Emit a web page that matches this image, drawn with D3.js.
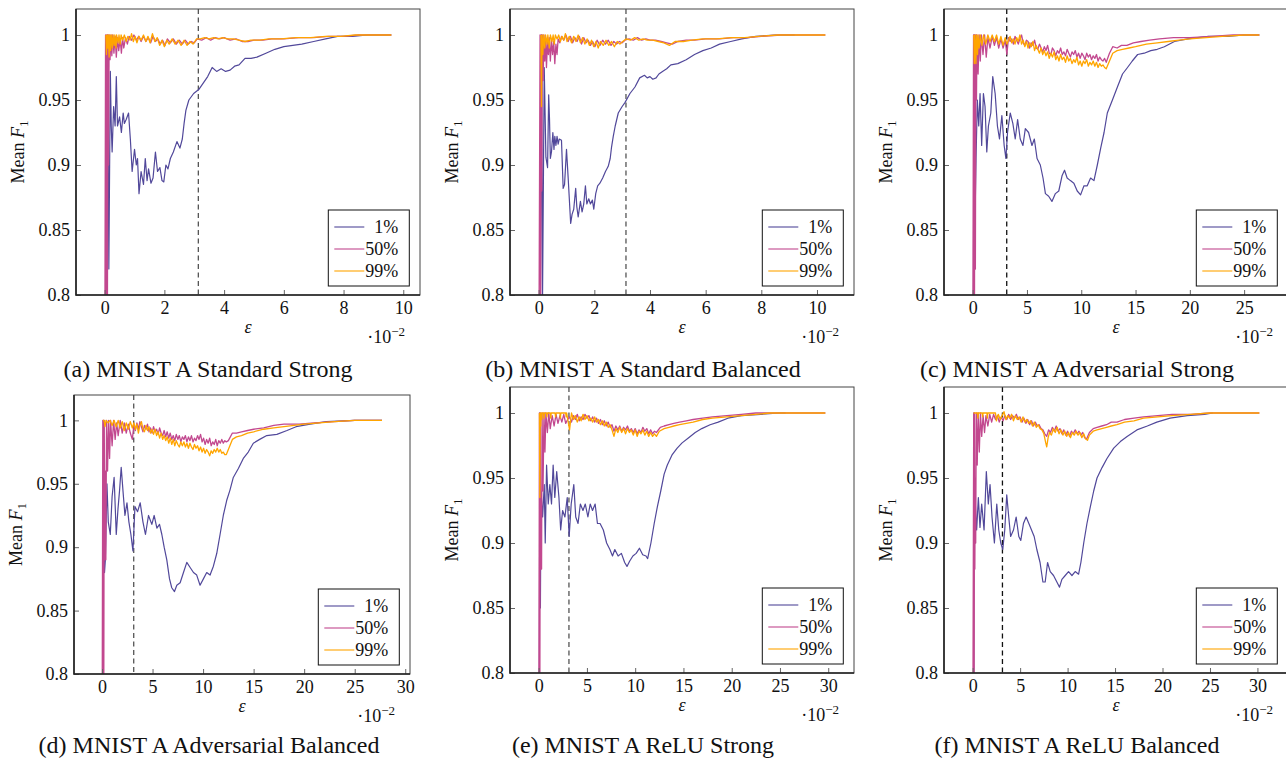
<!DOCTYPE html>
<html>
<head>
<meta charset="utf-8">
<script src="https://cdn.jsdelivr.net/npm/d3@7"></script>
<style>
  body { margin: 0; background: #fff; }
  svg text { font-family: "Liberation Serif", Tinos, "Times New Roman", "DejaVu Serif", serif; fill: #111; }
</style>
</head>
<body>
<script>
// x values are in units of 1e-2 (axis shows the ·10^-2 multiplier)

// (a) Standard Strong
const stdStrong1 = [[0.05,0.7],[0.1,1.0],[0.14,0.82],[0.19,0.972],[0.22,0.93],[0.25,0.91],[0.3,0.945],[0.35,0.93],[0.39,0.968],[0.43,0.93],[0.5,0.937],[0.56,0.925],[0.62,0.94],[0.66,0.932],[0.72,0.935],[0.8,0.94],[0.86,0.92],[0.92,0.895],[1.0,0.912],[1.06,0.9],[1.1,0.905],[1.15,0.878],[1.22,0.895],[1.3,0.885],[1.36,0.905],[1.42,0.888],[1.47,0.897],[1.55,0.886],[1.62,0.89],[1.7,0.91],[1.77,0.895],[1.85,0.898],[1.92,0.888],[1.98,0.887],[2.05,0.9],[2.12,0.897],[2.2,0.905],[2.3,0.91],[2.42,0.918],[2.52,0.913],[2.6,0.92],[2.66,0.932],[2.72,0.942],[2.82,0.95],[2.98,0.955],[3.15,0.958],[3.3,0.963],[3.45,0.968],[3.6,0.975],[3.75,0.972],[3.9,0.974],[4.05,0.972],[4.2,0.973],[4.35,0.976],[4.5,0.977],[4.7,0.982],[4.9,0.982],[5.1,0.983],[5.4,0.986],[5.7,0.989],[6.0,0.991],[6.3,0.992],[6.6,0.993],[7.0,0.995],[7.4,0.997],[7.8,0.999],[8.3,0.999],[8.8,1.0],[9.6,1.0]];
const stdStrong50 = [[0,0.7],[0.03,1],[0.05,0.72],[0.07,1],[0.09,0.76],[0.11,1],[0.13,0.9],[0.15,1],[0.18,0.981],[0.21,1],[0.24,0.984],[0.27,1],[0.31,0.986],[0.35,0.999],[0.39,0.983],[0.43,0.998],[0.47,0.988],[0.52,0.997],[0.56,0.986],[0.6,0.998],[0.64,0.99],[0.7,0.998],[0.76,0.993],[0.82,0.999],[0.9,0.996],[0.98,1.0],[1.06,0.996],[1.14,0.999],[1.22,0.995],[1.3,0.999],[1.38,0.995],[1.46,0.998],[1.54,0.994],[1.62,0.999],[1.7,0.995],[1.78,0.997],[1.86,0.993],[1.94,0.996],[2.02,0.992],[2.1,0.997],[2.2,0.994],[2.3,0.997],[2.4,0.993],[2.5,0.996],[2.6,0.993],[2.7,0.996],[2.8,0.993],[2.9,0.995],[3.0,0.994],[3.1,0.997],[3.25,0.996],[3.4,0.998],[3.55,0.996],[3.7,0.998],[3.85,0.997],[4.0,0.998],[4.2,0.996],[4.4,0.997],[4.6,0.995],[4.8,0.995],[5.0,0.996],[5.3,0.996],[5.6,0.997],[6.0,0.997],[6.5,0.998],[7.0,0.998],[7.5,0.999],[8.0,0.999],[8.5,1.0],[9.6,1.0]];
const stdStrong99 = [[0.04,1],[0.06,0.985],[0.08,1],[0.1,0.99],[0.12,1],[0.15,0.983],[0.17,1],[0.2,0.988],[0.22,1],[0.26,0.99],[0.28,1],[0.32,0.992],[0.34,1],[0.38,0.99],[0.4,1],[0.45,0.994],[0.48,1],[0.52,0.993],[0.55,1],[0.6,0.996],[0.66,1],[0.72,0.995],[0.78,0.999],[0.85,0.996],[0.9,1.001],[0.96,0.995],[1.02,0.999],[1.08,0.994],[1.15,0.999],[1.22,0.996],[1.3,1.0],[1.38,0.995],[1.45,0.999],[1.52,0.994],[1.6,1.001],[1.68,0.995],[1.76,0.998],[1.84,0.992],[1.92,0.996],[2.0,0.991],[2.08,0.996],[2.16,0.993],[2.26,0.997],[2.36,0.993],[2.46,0.996],[2.56,0.992],[2.66,0.996],[2.76,0.992],[2.86,0.995],[2.96,0.993],[3.08,0.997],[3.2,0.997],[3.35,0.998],[3.5,0.997],[3.65,0.998],[3.8,0.997],[3.95,0.998],[4.1,0.997],[4.3,0.997],[4.5,0.996],[4.7,0.995],[4.9,0.996],[5.2,0.996],[5.5,0.997],[5.9,0.997],[6.4,0.998],[6.9,0.998],[7.4,0.999],[7.9,0.999],[8.4,1.0],[9.6,1.0]];

// (b) Standard Balanced
const stdBal1 = [[0.05,0.7],[0.1,1.0],[0.14,0.8],[0.2,0.975],[0.26,0.906],[0.32,0.898],[0.36,0.954],[0.39,0.935],[0.42,0.905],[0.46,0.91],[0.51,0.925],[0.55,0.912],[0.58,0.922],[0.62,0.915],[0.66,0.922],[0.7,0.916],[0.74,0.92],[0.82,0.919],[0.88,0.882],[0.93,0.885],[1.0,0.912],[1.06,0.89],[1.15,0.855],[1.2,0.862],[1.26,0.866],[1.33,0.882],[1.37,0.868],[1.42,0.86],[1.5,0.872],[1.56,0.864],[1.62,0.87],[1.68,0.884],[1.73,0.87],[1.8,0.874],[1.86,0.87],[1.93,0.873],[1.98,0.866],[2.05,0.878],[2.12,0.884],[2.2,0.886],[2.3,0.89],[2.4,0.895],[2.5,0.899],[2.57,0.905],[2.62,0.914],[2.68,0.922],[2.75,0.93],[2.86,0.94],[3.0,0.945],[3.1,0.948],[3.28,0.955],[3.46,0.96],[3.63,0.967],[3.8,0.969],[3.9,0.967],[4.0,0.968],[4.1,0.966],[4.22,0.967],[4.32,0.97],[4.45,0.972],[4.6,0.974],[4.75,0.977],[5.0,0.978],[5.3,0.981],[5.6,0.985],[5.9,0.988],[6.2,0.99],[6.5,0.993],[6.9,0.995],[7.3,0.997],[7.8,0.999],[8.5,1.0],[9.2,1.0]];
const stdBal50 = [[0,0.7],[0.05,1],[0.07,0.75],[0.09,1],[0.11,0.88],[0.13,1],[0.16,0.965],[0.19,1],[0.22,0.98],[0.25,0.998],[0.28,0.975],[0.32,0.997],[0.35,0.985],[0.38,0.998],[0.42,0.98],[0.46,0.996],[0.5,0.985],[0.54,0.995],[0.58,0.978],[0.62,0.993],[0.66,0.985],[0.7,0.997],[0.76,0.994],[0.82,0.999],[0.9,0.996],[0.98,1.0],[1.06,0.995],[1.14,0.999],[1.22,0.994],[1.3,0.998],[1.38,0.995],[1.46,0.999],[1.54,0.993],[1.62,0.998],[1.7,0.994],[1.78,0.996],[1.86,0.992],[1.94,0.995],[2.02,0.991],[2.1,0.996],[2.2,0.992],[2.3,0.996],[2.4,0.993],[2.5,0.996],[2.6,0.992],[2.7,0.995],[2.8,0.993],[2.9,0.995],[3.0,0.994],[3.1,0.996],[3.25,0.997],[3.4,0.996],[3.55,0.998],[3.7,0.996],[3.85,0.997],[4.0,0.996],[4.2,0.996],[4.4,0.995],[4.6,0.994],[4.8,0.993],[5.0,0.995],[5.3,0.996],[5.6,0.996],[6.0,0.997],[6.5,0.997],[7.0,0.998],[7.5,0.998],[8.0,0.999],[8.7,1.0],[10.3,1.0]];
const stdBal99 = [[0.08,1],[0.1,0.945],[0.12,1],[0.15,0.985],[0.18,1],[0.22,0.99],[0.25,1],[0.3,0.993],[0.33,1],[0.38,0.99],[0.42,1],[0.48,0.995],[0.52,1],[0.56,0.993],[0.6,1],[0.66,0.997],[0.72,1],[0.78,0.995],[0.84,0.999],[0.9,0.996],[0.96,1.001],[1.02,0.995],[1.1,0.999],[1.18,0.994],[1.26,0.999],[1.34,0.995],[1.42,1.0],[1.5,0.994],[1.58,0.998],[1.66,0.993],[1.74,0.997],[1.82,0.992],[1.9,0.996],[1.98,0.991],[2.06,0.995],[2.14,0.99],[2.22,0.995],[2.32,0.992],[2.42,0.996],[2.52,0.992],[2.62,0.995],[2.72,0.991],[2.82,0.995],[2.92,0.993],[3.02,0.995],[3.15,0.997],[3.3,0.996],[3.45,0.998],[3.6,0.996],[3.75,0.997],[3.9,0.996],[4.1,0.996],[4.3,0.995],[4.5,0.994],[4.7,0.992],[4.9,0.995],[5.2,0.995],[5.5,0.996],[5.9,0.997],[6.4,0.997],[6.9,0.998],[7.4,0.998],[7.9,0.999],[8.6,1.0],[10.3,1.0]];

// (c) Adversarial Strong
const advStrong1 = [[0.05,0.7],[0.12,1.0],[0.2,0.85],[0.31,0.905],[0.43,0.95],[0.56,0.93],[0.68,0.955],[0.83,0.915],[0.99,0.955],[1.14,0.945],[1.3,0.91],[1.45,0.93],[1.67,0.94],[1.85,0.968],[2.07,0.955],[2.28,0.93],[2.47,0.92],[2.69,0.938],[2.9,0.915],[3.06,0.905],[3.21,0.925],[3.46,0.94],[3.7,0.932],[3.92,0.92],[4.14,0.935],[4.38,0.92],[4.63,0.915],[4.85,0.928],[5.15,0.925],[5.46,0.915],[5.68,0.92],[5.93,0.905],[6.23,0.9],[6.48,0.89],[6.7,0.878],[7.0,0.876],[7.3,0.872],[7.62,0.878],[7.93,0.88],[8.24,0.892],[8.46,0.896],[8.7,0.89],[9.0,0.888],[9.32,0.886],[9.63,0.88],[9.94,0.877],[10.25,0.884],[10.55,0.884],[10.86,0.89],[11.17,0.888],[11.48,0.9],[11.79,0.913],[12.1,0.925],[12.4,0.94],[12.87,0.95],[13.33,0.96],[13.8,0.97],[14.26,0.975],[14.7,0.98],[15.19,0.985],[15.8,0.986],[16.4,0.988],[17.0,0.989],[17.65,0.991],[18.58,0.995],[19.8,0.997],[21.7,0.999],[23.5,0.999],[25,1.0],[26.4,1.0]];
const advStrong50 = [[0,0.7],[0.08,1],[0.11,0.75],[0.14,1],[0.17,0.8],[0.2,1],[0.25,0.82],[0.3,1],[0.35,0.95],[0.4,1],[0.5,0.97],[0.6,1],[0.7,0.98],[0.8,1],[0.95,0.985],[1.1,1],[1.25,0.983],[1.4,0.998],[1.6,0.99],[1.8,0.999],[2.0,0.992],[2.2,0.998],[2.4,0.99],[2.6,0.997],[2.8,0.99],[3.0,0.996],[3.15,0.985],[3.3,0.998],[3.45,0.995],[3.6,0.997],[3.75,0.993],[3.9,0.999],[4.05,0.996],[4.2,0.993],[4.35,0.997],[4.5,1.0],[4.65,0.994],[4.8,0.992],[4.95,0.996],[5.1,0.995],[5.25,0.99],[5.4,0.994],[5.55,0.992],[5.7,0.996],[5.85,0.99],[6.0,0.989],[6.15,0.993],[6.3,0.99],[6.45,0.987],[6.6,0.991],[6.75,0.988],[6.9,0.992],[7.05,0.986],[7.2,0.985],[7.35,0.99],[7.5,0.988],[7.65,0.984],[7.8,0.988],[7.95,0.986],[8.1,0.99],[8.25,0.985],[8.4,0.987],[8.55,0.984],[8.7,0.989],[8.85,0.986],[9.0,0.983],[9.15,0.987],[9.3,0.985],[9.45,0.988],[9.6,0.983],[9.75,0.986],[9.9,0.982],[10.05,0.986],[10.2,0.984],[10.35,0.981],[10.5,0.986],[10.65,0.983],[10.8,0.985],[10.95,0.981],[11.1,0.984],[11.25,0.982],[11.4,0.985],[11.55,0.98],[11.7,0.983],[11.85,0.981],[12.0,0.98],[12.15,0.982],[12.3,0.979],[12.6,0.986],[12.9,0.991],[13.3,0.99],[13.7,0.992],[14.2,0.992],[14.8,0.994],[15.5,0.995],[16.3,0.996],[17.2,0.997],[18.5,0.998],[20,0.998],[22,0.999],[24,1.0],[26.4,1.0]];
const advStrong99 = [[0.1,1],[0.15,0.978],[0.2,1],[0.3,0.978],[0.35,1],[0.45,0.985],[0.5,1],[0.6,0.99],[0.7,1],[0.85,0.992],[1.0,1],[1.2,0.993],[1.4,1],[1.6,0.995],[1.8,1],[2.0,0.995],[2.2,1],[2.4,0.993],[2.6,0.999],[2.8,0.992],[3.0,0.998],[3.15,0.993],[3.3,0.996],[3.45,0.999],[3.6,0.994],[3.75,0.997],[3.9,0.993],[4.05,0.998],[4.2,0.995],[4.35,1.0],[4.5,0.993],[4.65,0.996],[4.8,0.991],[4.95,0.995],[5.1,0.99],[5.25,0.994],[5.4,0.991],[5.55,0.995],[5.7,0.988],[5.85,0.992],[6.0,0.989],[6.15,0.986],[6.3,0.99],[6.45,0.985],[6.6,0.988],[6.75,0.984],[6.9,0.987],[7.05,0.982],[7.2,0.986],[7.35,0.983],[7.5,0.987],[7.65,0.981],[7.8,0.984],[7.95,0.98],[8.1,0.985],[8.25,0.981],[8.4,0.983],[8.55,0.979],[8.7,0.984],[8.85,0.98],[9.0,0.982],[9.15,0.978],[9.3,0.981],[9.45,0.979],[9.6,0.983],[9.75,0.977],[9.9,0.98],[10.05,0.976],[10.2,0.98],[10.35,0.978],[10.5,0.981],[10.65,0.976],[10.8,0.979],[10.95,0.977],[11.1,0.98],[11.25,0.976],[11.4,0.979],[11.55,0.975],[11.7,0.978],[11.85,0.976],[12.0,0.977],[12.15,0.975],[12.3,0.974],[12.6,0.98],[12.9,0.986],[13.3,0.988],[13.8,0.989],[14.4,0.99],[15,0.991],[16,0.993],[17,0.994],[18,0.995],[19,0.996],[20,0.997],[21.5,0.998],[23,0.999],[25,1.0],[26.4,1.0]];

// (d) Adversarial Balanced
const advBal1 = [[0.05,0.7],[0.15,1.0],[0.25,0.88],[0.33,0.89],[0.49,0.95],[0.62,0.92],[0.82,0.91],[1.0,0.94],[1.2,0.955],[1.41,0.91],[1.58,0.93],[1.74,0.945],[1.9,0.963],[2.07,0.945],[2.27,0.925],[2.47,0.935],[2.66,0.92],[2.86,0.91],[3.06,0.897],[3.26,0.932],[3.52,0.928],[3.78,0.935],[4.05,0.92],[4.3,0.91],[4.6,0.925],[4.93,0.918],[5.16,0.925],[5.43,0.915],[5.69,0.918],[5.92,0.91],[6.15,0.9],[6.41,0.89],[6.68,0.875],[6.9,0.868],[7.17,0.865],[7.4,0.87],[7.73,0.872],[8.06,0.88],[8.39,0.888],[8.72,0.884],[9.05,0.88],[9.37,0.878],[9.7,0.87],[10.03,0.875],[10.36,0.88],[10.69,0.878],[11.02,0.885],[11.35,0.895],[11.68,0.91],[12.0,0.925],[12.34,0.937],[12.66,0.945],[12.99,0.955],[13.49,0.962],[13.98,0.97],[14.47,0.975],[14.97,0.982],[15.6,0.985],[16.3,0.988],[17.3,0.989],[18.3,0.992],[19.2,0.995],[20.6,0.997],[22.2,0.999],[25,1.0],[27.7,1.0]];
const advBal50 = [[0,0.7],[0.08,1],[0.11,0.75],[0.14,1],[0.18,0.8],[0.22,1],[0.28,0.89],[0.32,0.96],[0.38,0.89],[0.45,1],[0.55,0.96],[0.65,1],[0.75,0.97],[0.85,1],[1.0,0.98],[1.15,1],[1.3,0.985],[1.45,0.998],[1.6,0.988],[1.8,1],[2.0,0.99],[2.2,0.998],[2.4,0.99],[2.6,0.997],[2.8,0.99],[3.0,0.985],[3.15,0.996],[3.3,0.992],[3.45,0.998],[3.6,0.993],[3.75,0.999],[3.9,0.995],[4.05,0.991],[4.2,0.996],[4.35,0.993],[4.5,0.997],[4.65,0.991],[4.8,0.994],[4.95,0.99],[5.1,0.995],[5.25,0.991],[5.4,0.993],[5.55,0.989],[5.7,0.994],[5.85,0.99],[6.0,0.988],[6.15,0.992],[6.3,0.987],[6.45,0.991],[6.6,0.986],[6.75,0.99],[6.9,0.985],[7.05,0.988],[7.2,0.984],[7.35,0.989],[7.5,0.985],[7.65,0.988],[7.8,0.983],[7.95,0.987],[8.1,0.985],[8.25,0.988],[8.4,0.983],[8.55,0.987],[8.7,0.984],[8.85,0.988],[9.0,0.983],[9.15,0.986],[9.3,0.984],[9.45,0.988],[9.6,0.985],[9.75,0.989],[9.9,0.983],[10.05,0.986],[10.2,0.981],[10.35,0.985],[10.5,0.982],[10.65,0.986],[10.8,0.98],[10.95,0.983],[11.1,0.981],[11.25,0.985],[11.4,0.98],[11.55,0.984],[11.7,0.982],[11.85,0.985],[12.0,0.982],[12.15,0.984],[12.3,0.983],[12.5,0.984],[12.9,0.99],[13.3,0.99],[13.8,0.991],[14.4,0.992],[15,0.993],[16,0.994],[17,0.996],[18,0.997],[19.5,0.997],[21,0.998],[23,0.999],[25,1.0],[27.7,1.0]];
const advBal99 = [[0.1,1],[0.2,1],[0.3,0.995],[0.4,1],[0.6,0.998],[0.8,1],[1.0,0.996],[1.2,1],[1.4,0.995],[1.6,1],[1.8,0.994],[2.0,0.999],[2.2,0.992],[2.4,0.998],[2.6,0.993],[2.8,0.999],[3.0,0.994],[3.15,0.998],[3.3,0.993],[3.45,0.997],[3.6,0.99],[3.75,0.996],[3.9,0.999],[4.05,0.993],[4.2,0.991],[4.35,0.996],[4.5,0.992],[4.65,0.995],[4.8,0.99],[4.95,0.993],[5.1,0.989],[5.25,0.993],[5.4,0.988],[5.55,0.991],[5.7,0.986],[5.85,0.99],[6.0,0.985],[6.15,0.988],[6.3,0.984],[6.45,0.987],[6.6,0.982],[6.75,0.986],[6.9,0.981],[7.05,0.985],[7.2,0.98],[7.35,0.984],[7.5,0.981],[7.65,0.979],[7.8,0.983],[7.95,0.98],[8.1,0.983],[8.25,0.979],[8.4,0.982],[8.55,0.978],[8.7,0.982],[8.85,0.979],[9.0,0.977],[9.15,0.981],[9.3,0.978],[9.45,0.98],[9.6,0.976],[9.75,0.979],[9.9,0.975],[10.05,0.978],[10.2,0.974],[10.35,0.977],[10.5,0.975],[10.65,0.972],[10.8,0.976],[10.95,0.974],[11.1,0.977],[11.25,0.975],[11.4,0.978],[11.55,0.975],[11.7,0.977],[11.85,0.974],[12.0,0.975],[12.15,0.973],[12.3,0.973],[12.6,0.979],[12.9,0.985],[13.3,0.987],[13.8,0.988],[14.4,0.99],[15,0.991],[16,0.993],[17,0.994],[18,0.995],[19,0.996],[20,0.997],[21.5,0.998],[23,0.999],[25,1.0],[27.7,1.0]];

// (e) ReLU Strong
const reluStrong1 = [[0.05,0.7],[0.12,1.0],[0.18,0.85],[0.24,0.94],[0.41,0.92],[0.58,0.945],[0.68,0.9],[0.82,0.96],[0.99,0.93],[1.16,0.945],[1.33,0.93],[1.5,0.96],[1.67,0.935],[1.87,0.955],[2.1,0.935],[2.28,0.91],[2.48,0.925],[2.72,0.92],[2.96,0.935],[3.16,0.905],[3.37,0.93],[3.64,0.945],[3.84,0.92],[4.08,0.915],[4.32,0.93],[4.59,0.925],[4.83,0.93],[5.1,0.92],[5.34,0.93],[5.58,0.925],[5.85,0.93],[6.09,0.915],[6.36,0.915],[6.7,0.91],[7.04,0.9],[7.38,0.895],[7.65,0.89],[7.89,0.895],[8.23,0.89],[8.57,0.892],[8.91,0.885],[9.15,0.882],[9.42,0.886],[9.76,0.89],[10.1,0.892],[10.44,0.896],[10.78,0.891],[11.12,0.89],[11.29,0.888],[11.63,0.9],[11.97,0.915],[12.3,0.928],[12.65,0.94],[13.0,0.953],[13.33,0.96],[13.84,0.968],[14.35,0.973],[14.86,0.977],[15.54,0.981],[16.22,0.985],[16.9,0.988],[17.76,0.991],[18.6,0.993],[19.6,0.996],[21,0.998],[23,0.999],[25,1.0],[25.6,1.0]];
const reluStrong50 = [[0,0.7],[0.08,1],[0.12,0.75],[0.16,1],[0.2,0.88],[0.25,0.93],[0.3,0.88],[0.35,1],[0.45,0.94],[0.55,1],[0.65,0.97],[0.75,1],[0.9,0.985],[1.05,1],[1.2,0.988],[1.4,0.998],[1.6,0.99],[1.8,0.999],[2.0,0.992],[2.2,0.998],[2.4,0.993],[2.6,0.999],[2.8,0.992],[3.0,0.995],[3.2,0.997],[3.4,0.993],[3.6,0.998],[3.8,0.995],[4.0,0.999],[4.2,0.994],[4.4,0.997],[4.6,0.995],[4.8,0.999],[5.0,0.996],[5.2,0.998],[5.4,0.994],[5.6,0.997],[5.8,0.993],[6.0,0.996],[6.2,0.992],[6.4,0.995],[6.6,0.991],[6.8,0.994],[7.0,0.99],[7.2,0.993],[7.4,0.989],[7.6,0.991],[7.8,0.986],[8.0,0.99],[8.2,0.987],[8.4,0.99],[8.6,0.986],[8.8,0.989],[9.0,0.987],[9.2,0.99],[9.4,0.986],[9.6,0.988],[9.8,0.985],[10.0,0.988],[10.2,0.984],[10.4,0.987],[10.6,0.985],[10.8,0.989],[11.0,0.986],[11.2,0.988],[11.4,0.984],[11.6,0.987],[11.8,0.984],[12.0,0.986],[12.2,0.985],[12.6,0.989],[13.0,0.99],[13.5,0.991],[14,0.992],[14.6,0.993],[15.3,0.994],[16,0.995],[17,0.996],[18,0.997],[19.5,0.998],[21,0.999],[22.5,1.0],[29.7,1.0]];
const reluStrong99 = [[0.08,1],[0.12,0.935],[0.16,1],[0.22,0.99],[0.26,1],[0.32,0.995],[0.36,1],[0.5,1],[0.55,0.996],[0.6,1],[0.8,1],[0.85,0.997],[0.9,1],[1.2,1],[1.25,0.996],[1.3,1],[1.7,1],[1.75,0.997],[1.8,1],[2.2,1],[2.25,0.996],[2.3,1],[2.8,1],[2.85,0.997],[2.9,1],[3.2,0.987],[3.4,1.0],[3.6,0.995],[3.8,0.998],[4.0,0.993],[4.2,0.997],[4.4,0.994],[4.6,0.999],[4.8,0.995],[5.0,0.998],[5.2,0.994],[5.4,0.996],[5.6,0.993],[5.8,0.997],[6.0,0.993],[6.2,0.995],[6.4,0.991],[6.6,0.994],[6.8,0.99],[7.0,0.993],[7.2,0.989],[7.4,0.991],[7.6,0.987],[7.8,0.982],[8.0,0.988],[8.2,0.985],[8.4,0.989],[8.6,0.985],[8.8,0.988],[9.0,0.984],[9.2,0.988],[9.4,0.985],[9.6,0.987],[9.8,0.983],[10.0,0.987],[10.2,0.982],[10.4,0.986],[10.6,0.984],[10.8,0.987],[11.0,0.983],[11.2,0.986],[11.4,0.982],[11.6,0.985],[11.8,0.982],[12.0,0.984],[12.2,0.982],[12.5,0.986],[13.0,0.988],[13.5,0.989],[14,0.99],[14.6,0.991],[15.3,0.992],[16,0.993],[17,0.995],[18,0.996],[19.5,0.997],[21,0.998],[22.5,0.999],[24,1.0],[29.7,1.0]];

// (f) ReLU Balanced
const reluBal1 = [[0.1,0.7],[0.15,1.0],[0.2,0.9],[0.28,0.93],[0.42,0.91],[0.6,0.935],[0.77,0.912],[0.95,0.93],[1.2,0.91],[1.44,0.955],[1.65,0.93],[1.83,0.945],[2.04,0.92],[2.29,0.9],[2.54,0.93],[2.75,0.91],[2.96,0.9],[3.17,0.895],[3.38,0.91],[3.59,0.937],[3.8,0.92],[4.0,0.905],[4.3,0.91],[4.58,0.92],[4.86,0.905],[5.07,0.902],[5.35,0.915],[5.63,0.92],[5.92,0.915],[6.2,0.91],[6.48,0.905],[6.76,0.895],[7.1,0.885],[7.4,0.87],[7.64,0.87],[7.89,0.885],[8.17,0.878],[8.52,0.875],[8.87,0.87],[9.15,0.866],[9.4,0.872],[9.75,0.875],[10.1,0.878],[10.46,0.875],[10.8,0.878],[11.16,0.876],[11.4,0.885],[11.7,0.9],[12.04,0.915],[12.4,0.928],[12.75,0.94],[13.1,0.95],[13.63,0.958],[14.15,0.965],[14.86,0.973],[15.56,0.978],[16.27,0.982],[17.3,0.987],[18.4,0.99],[19.4,0.993],[20.8,0.996],[22.6,0.998],[24.4,0.999],[25.3,1.0]];
const reluBal50 = [[0,0.7],[0.11,1],[0.15,0.75],[0.19,1],[0.23,0.88],[0.27,0.95],[0.32,0.9],[0.38,1],[0.48,0.96],[0.58,1],[0.7,0.97],[0.82,1],[0.95,0.982],[1.1,0.998],[1.25,0.985],[1.4,0.998],[1.6,0.99],[1.8,0.999],[2.0,0.993],[2.2,0.999],[2.4,0.995],[2.6,0.998],[2.8,0.993],[3.0,0.997],[3.2,0.994],[3.4,0.998],[3.6,0.995],[3.8,0.999],[4.0,0.995],[4.2,0.998],[4.4,0.996],[4.6,0.999],[4.8,0.995],[5.0,0.997],[5.2,0.993],[5.4,0.996],[5.6,0.992],[5.8,0.995],[6.0,0.991],[6.2,0.994],[6.4,0.99],[6.6,0.993],[6.8,0.99],[7.0,0.991],[7.2,0.988],[7.4,0.987],[7.6,0.984],[7.8,0.982],[8.0,0.987],[8.2,0.985],[8.4,0.989],[8.6,0.986],[8.8,0.99],[9.0,0.986],[9.2,0.988],[9.4,0.984],[9.6,0.987],[9.8,0.983],[10.0,0.986],[10.2,0.982],[10.4,0.986],[10.6,0.984],[10.8,0.987],[11.0,0.984],[11.2,0.986],[11.4,0.983],[11.6,0.985],[11.8,0.981],[12.0,0.98],[12.3,0.985],[12.7,0.988],[13.1,0.989],[13.6,0.99],[14.1,0.991],[14.6,0.993],[15.2,0.993],[16,0.995],[17,0.996],[18,0.997],[19.5,0.998],[21,0.999],[23,0.999],[25,1.0],[30.2,1.0]];
const reluBal99 = [[0.1,1],[0.5,1],[0.55,0.996],[0.6,1],[1.0,1],[1.05,0.997],[1.1,1],[1.5,1],[1.55,0.996],[1.6,1],[2.4,1],[2.5,0.994],[2.7,0.999],[2.9,0.995],[3.1,0.998],[3.3,1.001],[3.5,0.995],[3.7,0.998],[3.9,0.996],[4.1,0.999],[4.3,0.994],[4.5,0.998],[4.7,0.995],[4.9,0.997],[5.1,0.993],[5.3,0.997],[5.5,0.993],[5.7,0.995],[5.9,0.992],[6.1,0.994],[6.3,0.99],[6.5,0.993],[6.7,0.989],[6.9,0.991],[7.1,0.988],[7.3,0.987],[7.5,0.984],[7.7,0.977],[7.8,0.974],[7.95,0.981],[8.1,0.985],[8.3,0.983],[8.5,0.988],[8.7,0.985],[8.9,0.989],[9.1,0.984],[9.3,0.987],[9.5,0.983],[9.7,0.986],[9.9,0.982],[10.1,0.985],[10.3,0.981],[10.5,0.985],[10.7,0.983],[10.9,0.986],[11.1,0.983],[11.3,0.985],[11.5,0.981],[11.7,0.984],[11.9,0.98],[12.1,0.979],[12.3,0.983],[12.7,0.986],[13.1,0.987],[13.6,0.988],[14.1,0.989],[14.6,0.99],[15.2,0.991],[16,0.993],[17,0.994],[18,0.996],[19.5,0.997],[21,0.998],[23,0.999],[25,1.0],[30.2,1.0]];

const seriesNames = ['1%', '50%', '99%'];
const seriesColors = ['#51489a', '#c2488f', '#ffa500'];
const seriesWidths = [1.2, 1.3, 1.3];
const yTicks = [0.8, 0.85, 0.9, 0.95, 1];
const yTickLabels = ['0.8', '0.85', '0.9', '0.95', '1'];
const epsMark = 3.137; // 8/255, dashed marker

const panels = [
  { cap: '(a) MNIST A Standard Strong', series: [stdStrong1, stdStrong50, stdStrong99], step: 2, dash: '#555',
    box: [76, 9, 420, 295], capX: 208, capY: 377 },
  { cap: '(b) MNIST A Standard Balanced', series: [stdBal1, stdBal50, stdBal99], step: 2, dash: '#555',
    box: [510, 9, 854, 295], capX: 643, capY: 377 },
  { cap: '(c) MNIST A Adversarial Strong', series: [advStrong1, advStrong50, advStrong99], step: 5, dash: '#111',
    box: [944, 9, 1288, 295], capX: 1077, capY: 377 },
  { cap: '(d) MNIST A Adversarial Balanced', series: [advBal1, advBal50, advBal99], step: 5, dash: '#555',
    box: [74, 395, 410, 674], capX: 209, capY: 753 },
  { cap: '(e) MNIST A ReLU Strong', series: [reluStrong1, reluStrong50, reluStrong99], step: 5, dash: '#555',
    box: [510, 387, 854, 673], capX: 643, capY: 753 },
  { cap: '(f) MNIST A ReLU Balanced', series: [reluBal1, reluBal50, reluBal99], step: 5, dash: '#111',
    box: [944, 387, 1288, 673], capX: 1077, capY: 753 }
];

const FONT = '"Liberation Serif", Tinos, "Times New Roman", "DejaVu Serif", serif';

const svg = d3.select('body').append('svg')
  .attr('width', 1286).attr('height', 760)
  .attr('font-family', FONT);

panels.forEach((p, i) => {
  const [x0, y0, x1, y1] = p.box;
  const xmax = d3.max(p.series, s => d3.max(s, d => d[0]));
  const pad = 0.1 * xmax;
  const x = d3.scaleLinear().domain([-pad, xmax + pad]).range([x0, x1]);
  const y = d3.scaleLinear().domain([0.8, 1.02]).range([y1, y0]);

  const g = svg.append('g');
  const clipId = 'clip' + i;
  g.append('clipPath').attr('id', clipId)
    .append('rect').attr('x', x0).attr('y', y0).attr('width', x1 - x0).attr('height', y1 - y0);

  // dashed marker
  g.append('line')
    .attr('x1', x(epsMark)).attr('x2', x(epsMark))
    .attr('y1', y0).attr('y2', y1)
    .attr('stroke', p.dash).attr('stroke-width', 1.3)
    .attr('stroke-dasharray', '5,3.5');

  const line = d3.line().x(d => x(d[0])).y(d => y(d[1]));
  const lines = g.append('g').attr('clip-path', `url(#${clipId})`);
  p.series.forEach((s, k) => {
    lines.append('path').datum(s)
      .attr('d', line)
      .attr('fill', 'none')
      .attr('stroke', seriesColors[k])
      .attr('stroke-width', seriesWidths[k])
      .attr('stroke-linejoin', 'round');
  });

  // axes (ticks inside)
  const xTicks = d3.range(0, xmax + pad + 1e-6, p.step);
  const xAxis = d3.axisBottom(x).tickValues(xTicks).tickSize(-5).tickPadding(6).tickFormat(d3.format('d'));
  const gx = g.append('g').attr('transform', `translate(0,${y1})`).call(xAxis);
  const yAxis = d3.axisLeft(y).tickValues(yTicks).tickSize(-5).tickPadding(6)
    .tickFormat((d, j) => yTickLabels[j]);
  const gy = g.append('g').attr('transform', `translate(${x0},0)`).call(yAxis);
  [gx, gy].forEach(a => {
    a.attr('font-family', FONT);
    a.select('.domain').remove();
    a.selectAll('.tick line').attr('stroke', '#666');
    a.selectAll('.tick text').attr('font-size', 18).attr('fill', '#111');
  });

  // frame
  g.append('rect').attr('x', x0).attr('y', y0).attr('width', x1 - x0).attr('height', y1 - y0)
    .attr('fill', 'none').attr('stroke', '#444').attr('stroke-width', 1);
  g.append('path')
    .attr('d', `M${x0},${y0}V${y1}H${x1}`)
    .attr('fill', 'none').attr('stroke', '#222').attr('stroke-width', 1.6);

  // axis labels
  g.append('text').attr('x', (x0 + x1) / 2).attr('y', y1 + 38)
    .attr('text-anchor', 'middle').attr('font-size', 18).attr('font-style', 'italic').text('ε');
  const m = g.append('text').attr('x', x1 - 15).attr('y', y1 + 48)
    .attr('text-anchor', 'end').attr('font-size', 18);
  m.append('tspan').text('·10');
  m.append('tspan').attr('font-size', 13).attr('dy', -7).text('−2');

  const yl = g.append('text')
    .attr('transform', `translate(${x0 - 52},${(y0 + y1) / 2}) rotate(-90)`)
    .attr('text-anchor', 'middle').attr('font-size', 18);
  yl.append('tspan').text('Mean ');
  yl.append('tspan').attr('font-style', 'italic').text('F');
  yl.append('tspan').attr('font-size', 13).attr('dy', 4).text('1');

  // legend
  const lw = 81, lh = 76;
  const lx = x1 - 10.7 - lw, ly = y1 - 9 - lh;
  const leg = g.append('g').attr('transform', `translate(${lx},${ly})`);
  leg.append('rect').attr('width', lw).attr('height', lh)
    .attr('fill', '#fff').attr('stroke', '#111').attr('stroke-width', 1);
  seriesNames.forEach((name, k) => {
    const cy = 17 + k * 22;
    leg.append('line').attr('x1', 6).attr('x2', 36).attr('y1', cy).attr('y2', cy)
      .attr('stroke', seriesColors[k]).attr('stroke-width', 1.1);
    leg.append('text').attr('x', lw - 11).attr('y', cy + 6)
      .attr('text-anchor', 'end').attr('font-size', 18).text(name);
  });

  // caption
  svg.append('text').attr('x', p.capX).attr('y', p.capY)
    .attr('text-anchor', 'middle').attr('font-size', 24).text(p.cap);
});
</script>
</body>
</html>
